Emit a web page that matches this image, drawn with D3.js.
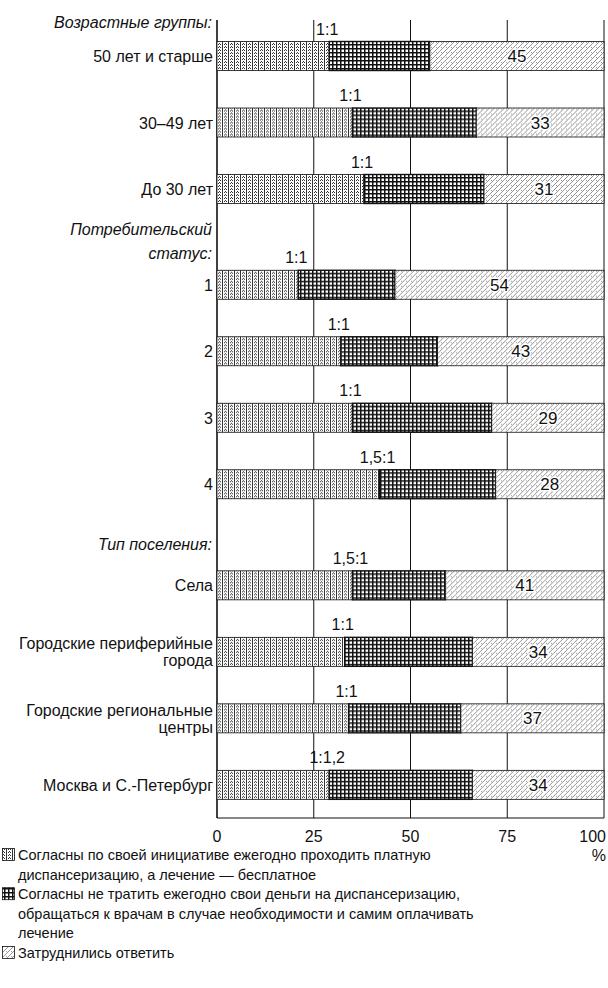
<!DOCTYPE html>
<html>
<head>
  <meta charset="utf-8">
  <title>Диспансеризация</title>
  <script src="https://cdn.jsdelivr.net/npm/d3@7"></script>
  <style>
    body { margin: 0; background: #fff; }
    svg { display: block; }
    text { font-family: "Liberation Sans", Arial, sans-serif; fill: #111; }
    .cat { font-size: 16px; text-anchor: end; }
    .head { font-size: 16px; font-style: italic; text-anchor: end; }
    .tick { font-size: 16px; }
    .num { font-size: 17px; text-anchor: middle; stroke: #fff; stroke-width: 3px; paint-order: stroke; }
    .ratio { font-size: 16px; text-anchor: middle; }
    .leg { font-size: 14.5px; }
  </style>
</head>
<body>
<script>
  // Data
  var categories = ["50 лет и старше", "30–49 лет", "До 30 лет",
                    "1", "2", "3", "4",
                    "Села", "Городские периферийные|города", "Городские региональные|центры", "Москва и С.-Петербург"];
  var groupOf = [0, 0, 0, 1, 1, 1, 1, 2, 2, 2, 2];
  var headings = ["Возрастные группы:", "Потребительский|статус:", "Тип поселения:"];
  var paidCheckup = [29, 35, 38, 21, 32, 35, 42, 35, 33, 34, 29];
  var payOwnTreatment = [26, 32, 31, 25, 25, 36, 30, 24, 33, 29, 37];
  var hardToSay = [45, 33, 31, 54, 43, 29, 28, 41, 34, 37, 34];
  var ratios = ["1:1", "1:1", "1:1", "1:1", "1:1", "1:1", "1,5:1", "1,5:1", "1:1", "1:1", "1:1,2"];
  var xTicks = [0, 25, 50, 75, 100];
  var legendLines = [
    ["Согласны по своей инициативе ежегодно проходить платную", "диспансеризацию, а лечение — бесплатное"],
    ["Согласны не тратить ежегодно свои деньги на диспансеризацию,", "обращаться к врачам в случае необходимости и самим оплачивать", "лечение"],
    ["Затруднились ответить"]
  ];

  // Consts
  var width = 608, height = 988;
  var barH = 29;
  var groupGap = [0, 0.44, 0.96];      // extra slots before each group
  var headDy = [-34, -32, -41];        // heading last line vs first bar centre
  var plotTop = 20, plotBottom = 818;

  var svg = d3.select("body").append("svg")
      .attr("width", width)
      .attr("height", height);

  var x = d3.scaleLinear().domain([0, 100]).range([217, 604]);
  var y = d3.scaleLinear().domain([0, 1]).range([56, 122.5]);   // slot -> row centre
  var slot = function(i) { return i + groupGap[groupOf[i]]; };

  // Patterns
  var defs = svg.append("defs");
  var pDots = defs.append("pattern").attr("id", "dots")
      .attr("patternUnits", "userSpaceOnUse").attr("width", 6).attr("height", 3);
  pDots.append("rect").attr("width", 6).attr("height", 3).attr("fill", "#fff");
  [[0, 0], [0, 1], [0, 2], [2, 0], [4, 0], [3, 2]].forEach(function(p) {
    pDots.append("rect").attr("x", p[0]).attr("y", p[1]).attr("width", 1).attr("height", 1).attr("fill", "#333");
  });

  var pGrid = defs.append("pattern").attr("id", "grid")
      .attr("patternUnits", "userSpaceOnUse").attr("width", 4).attr("height", 4);
  pGrid.append("rect").attr("width", 4).attr("height", 4).attr("fill", "#fff");
  pGrid.append("rect").attr("width", 4).attr("height", 1.5).attr("fill", "#111");
  pGrid.append("rect").attr("width", 1.5).attr("height", 4).attr("fill", "#111");

  var pHatch = defs.append("pattern").attr("id", "hatch")
      .attr("patternUnits", "userSpaceOnUse").attr("width", 5).attr("height", 5);
  pHatch.append("rect").attr("width", 5).attr("height", 5).attr("fill", "#fff");
  pHatch.append("path").attr("d", "M-1,6 L6,-1").attr("stroke", "#888").attr("stroke-width", 0.9);
  pHatch.append("rect").attr("x", 1).attr("y", 1).attr("width", 1).attr("height", 1).attr("fill", "#999");

  // Grid lines
  svg.append("g").selectAll("line")
    .data(xTicks)
    .enter().append("line")
      .attr("x1", function(d) { return x(d); })
      .attr("x2", function(d) { return x(d); })
      .attr("y1", plotTop)
      .attr("y2", plotBottom)
      .attr("stroke", "#111")
      .attr("stroke-width", function(d) { return d === 0 ? 1.6 : 1; });
  svg.append("line")
      .attr("x1", x(0)).attr("x2", x(100))
      .attr("y1", plotBottom).attr("y2", plotBottom)
      .attr("stroke", "#111");

  // Bars
  var rows = categories.map(function(c, i) {
    var a = paidCheckup[i], b = payOwnTreatment[i], h = hardToSay[i];
    return {
      i: i, name: c, ratio: ratios[i], hard: h,
      segs: [
        {x0: 0, x1: a, fill: "url(#dots)", sw: 0.8},
        {x0: a, x1: a + b, fill: "url(#grid)", sw: 1.4},
        {x0: a + b, x1: 100, fill: "url(#hatch)", sw: 0.8}
      ]
    };
  });

  var row = svg.append("g").selectAll(".row")
    .data(rows)
    .enter().append("g")
      .attr("class", "row")
      .attr("transform", function(d) { return "translate(0," + y(slot(d.i)) + ")"; });

  row.selectAll("rect")
    .data(function(d) { return d.segs; })
    .enter().append("rect")
      .attr("x", function(d) { return x(d.x0); })
      .attr("width", function(d) { return x(d.x1) - x(d.x0); })
      .attr("y", -barH / 2)
      .attr("height", barH)
      .attr("fill", function(d) { return d.fill; })
      .attr("stroke", "#111")
      .attr("stroke-width", function(d) { return d.sw; });

  row.append("text")
      .attr("class", "num")
      .attr("x", function(d) { return x(d.segs[2].x0 + d.hard / 2); })
      .attr("y", 6)
      .text(function(d) { return d.hard; });

  row.append("text")
      .attr("class", "ratio")
      .attr("x", function(d) { return x(d.segs[1].x0) - 2; })
      .attr("y", -barH / 2 - 7)
      .text(function(d) { return d.ratio; });

  // Category labels
  row.append("text")
      .attr("class", "cat")
      .attr("x", 213)
      .each(function(d) {
        var parts = d.name.split("|");
        var t = d3.select(this);
        parts.forEach(function(p, k) {
          t.append("tspan")
            .attr("x", 213)
            .attr("y", 6 + (k - (parts.length - 1) / 2) * 17)
            .text(p);
        });
      });

  // Group headings
  svg.append("g").selectAll("text")
    .data(headings)
    .enter().append("text")
      .attr("class", "head")
      .each(function(d, g) {
        var first = groupOf.indexOf(g);
        var base = y(slot(first)) + headDy[g];
        var parts = d.split("|");
        var t = d3.select(this);
        parts.forEach(function(p, k) {
          t.append("tspan")
            .attr("x", 212)
            .attr("y", base + 6 - (parts.length - 1 - k) * 24)
            .text(p);
        });
      });

  // X axis labels
  svg.append("g").selectAll("text")
    .data(xTicks)
    .enter().append("text")
      .attr("class", "tick")
      .attr("x", function(d) { return d === 100 ? x(d) + 2 : x(d); })
      .attr("y", 842)
      .attr("text-anchor", function(d) { return d === 100 ? "end" : "middle"; })
      .text(function(d) { return d; });
  svg.append("text")
      .attr("class", "tick")
      .attr("x", 606).attr("y", 861)
      .attr("text-anchor", "end")
      .text("%");

  // Legend
  var fills = ["url(#dots)", "url(#grid)", "url(#hatch)"];
  var lineY = 855;
  legendLines.forEach(function(lines, k) {
    svg.append("rect")
      .attr("x", 2.5).attr("y", lineY - 6.5)
      .attr("width", 12).attr("height", 12)
      .attr("fill", fills[k])
      .attr("stroke", "#111").attr("stroke-width", 0.8);
    lines.forEach(function(l) {
      svg.append("text")
        .attr("class", "leg")
        .attr("x", 18).attr("y", lineY + 5)
        .text(l);
      lineY += 19.6;
    });
  });
</script>
</body>
</html>
